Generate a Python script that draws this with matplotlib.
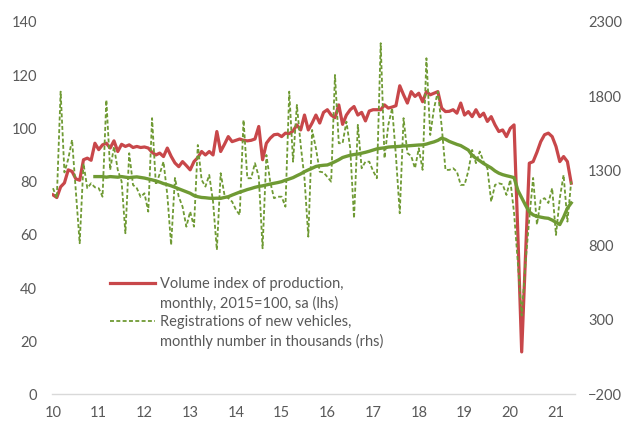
import numpy as np
import matplotlib
matplotlib.use("Agg")
import matplotlib.pyplot as plt
from matplotlib.lines import Line2D

# ---------------- data ----------------
year_labels = ["10", "11", "12", "13", "14", "15", "16", "17", "18", "19", "20", "21"]

# Volume index of production, monthly, 2015=100, sa (lhs)  Jan 2010 - May 2021
production = [
    75, 74, 78, 79.5, 84.4, 83.8, 81, 80.5, 88.2, 88.8, 88, 94.4,            # 2010
    92, 93.8, 94.4, 92.6, 95.3, 91.3, 94, 93.2, 93.8, 92.8, 93.2, 92.8,      # 2011
    93, 92.6, 91, 90, 90.7, 89.4, 92.6, 89.5, 87, 85.6, 87.5, 86,            # 2012
    84.4, 87.5, 89, 91.3, 90, 91.3, 90, 98.8, 91.3, 94, 96.9, 95,            # 2013
    95.5, 96, 95.5, 95.3, 95.5, 96, 100.7, 88.2, 94.4, 96.3, 97.6, 97.8,     # 2014
    96.9, 98.2, 98, 99, 101.3, 99.4, 105, 99.4, 102, 105, 102, 106,          # 2015
    107, 105, 104, 108.8, 101.5, 105, 107, 108.2, 105, 106, 102.8, 106.5,    # 2016
    107, 107, 107, 108.8, 107.6, 108, 108.5, 116, 112.6, 109.5, 113.8, 112,  # 2017
    113.2, 110, 113.8, 112.6, 113.2, 113.8, 107.6, 106.3, 106.4, 107, 105.7, 109.5,  # 2018
    105, 106.3, 104.4, 107, 104.4, 105.7, 102.6, 104.4, 101.3, 98.8, 99.4, 96.9,     # 2019
    100, 101.3, 60, 16, 52, 86.9, 87.5, 91, 95, 97.6, 98.2, 96.9,            # 2020
    93.2, 87.5, 89.4, 87.5, 79.4,                                            # 2021
]

# Registrations of new vehicles, monthly number in thousands (rhs)
registrations = [
    1184, 1117, 1832, 1290, 1380, 1508, 1160, 815, 1350, 1184, 1217, 1190,   # 2010
    1184, 1127, 1776, 1307, 1463, 1307, 1230, 882, 1419, 1206, 1184, 1125,   # 2011
    1150, 1027, 1654, 1206, 1280, 1362, 1139, 803, 1253, 1127, 1060, 926,    # 2012
    1027, 926, 1474, 1240, 1195, 1273, 1094, 770, 1285, 1139, 1117, 1094,    # 2013
    1040, 1005, 1642, 1251, 1251, 1352, 1262, 781, 1407, 1228, 1117, 1127,   # 2014
    1127, 1060, 1832, 1362, 1743, 1474, 1250, 859, 1575, 1452, 1295, 1290,   # 2015
    1260, 1228, 1944, 1486, 1486, 1631, 1452, 982, 1609, 1318, 1362, 1362,   # 2016
    1300, 1251, 2157, 1385, 1609, 1721, 1400, 1016, 1654, 1420, 1400, 1318,  # 2017
    1452, 1307, 2056, 1541, 1721, 1832, 1600, 1307, 1307, 1318, 1295, 1206,  # 2018
    1206, 1300, 1441, 1352, 1430, 1362, 1318, 1094, 1206, 1217, 1210, 1139,  # 2019
    1240, 1018, 680, 330, 680, 980, 1253, 940, 1105, 1117, 1085, 1184,       # 2020
    870, 1117, 1273, 960, 1230,                                              # 2021
]

# 12-month average of registrations (rhs), Dec 2010 - May 2021
registrations_avg = [
    1262,                                                                    # Dec 2010
    1262, 1262, 1258, 1262, 1260, 1258, 1262, 1258, 1255, 1258, 1260, 1256,  # 2011
    1252, 1246, 1240, 1233, 1225, 1215, 1208, 1200, 1190, 1180, 1170, 1160,  # 2012
    1150, 1135, 1127, 1122, 1120, 1117, 1116, 1117, 1116, 1122, 1127, 1138,  # 2013
    1148, 1158, 1166, 1175, 1182, 1190, 1196, 1200, 1206, 1212, 1217, 1222,  # 2014
    1228, 1238, 1246, 1255, 1268, 1280, 1295, 1307, 1318, 1330, 1335, 1338,  # 2015
    1340, 1350, 1362, 1375, 1390, 1398, 1405, 1410, 1413, 1419, 1425, 1432,  # 2016
    1440, 1448, 1452, 1455, 1460, 1462, 1463, 1465, 1468, 1468, 1470, 1472,  # 2017
    1474, 1475, 1480, 1488, 1495, 1505, 1520, 1512, 1498, 1488, 1478, 1470,  # 2018
    1455, 1440, 1405, 1385, 1368, 1350, 1335, 1320, 1300, 1285, 1275, 1268,  # 2019
    1262, 1255, 1170, 1120, 1070, 1025, 1005, 995, 990, 985, 982, 970,       # 2020
    955, 940, 990, 1050, 1085,                                               # 2021
]
avg_start = 11  # first month index of the average (Dec 2010)

legend_labels = [
    "Volume index of production,",
    "monthly, 2015=100, sa (lhs)",
    "Registrations of new vehicles,",
    "monthly number in thousands (rhs)",
]

# ---------------- style ----------------
RED = "#C8474A"
GREEN = "#6F9A34"
TXT = "#595959"
FONT = "Lato"
FS = 10.5

plt.rcParams["font.family"] = [FONT, "DejaVu Sans"]

fig = plt.figure(figsize=(6.23, 4.21), dpi=100)
ax = fig.add_axes([0.083, 0.063, 0.84, 0.885])
ax2 = ax.twinx()

x_prod = np.arange(len(production))
x_reg = np.arange(len(registrations))
x_avg = np.arange(len(registrations_avg)) + avg_start

ax.plot(x_prod, production, color=RED, lw=2.3, solid_joinstyle="round", zorder=3)
ax2.plot(x_reg, registrations, color=GREEN, lw=1.3, linestyle=(0, (2.2, 1.3)), zorder=3)
ax2.plot(x_avg, registrations_avg, color=GREEN, lw=2.4, solid_joinstyle="round", zorder=4)

ax.set_xlim(-0.34, 137.0)
ax.set_ylim(0, 140)
ax2.set_ylim(-200, 2300)

ax.set_yticks(np.arange(0, 141, 20))
ax2.set_yticks(np.arange(-200, 2301, 500))
ax.set_xticks(np.arange(len(year_labels)) * 12)
ax.set_xticklabels(year_labels)

for a in (ax, ax2):
    for s in a.spines.values():
        s.set_visible(False)
    a.tick_params(length=0, colors=TXT, labelsize=FS)
ax.spines["bottom"].set_visible(True)
ax.spines["bottom"].set_color("#D9D9D9")
ax.spines["bottom"].set_linewidth(1.0)
ax.tick_params(axis="y", pad=10.5)
ax.tick_params(axis="x", pad=8.5)
ax2.tick_params(axis="y", pad=9.5)

handles = [
    Line2D([], [], color=RED, lw=2.3),
    Line2D([], [], color="none"),
    Line2D([], [], color=GREEN, lw=1.3, linestyle=(0, (2.2, 1.3))),
    Line2D([], [], color="none"),
]
leg = ax2.legend(handles, legend_labels, loc="upper left",
                 bbox_to_anchor=(0.1114, 0.316), borderaxespad=0, borderpad=0,
                 handlelength=3.1, handletextpad=0.3, labelspacing=0.33,
                 frameon=False, prop={"family": [FONT, "DejaVu Sans"], "size": FS})
for t in leg.get_texts():
    t.set_color(TXT)

fig.savefig("out.png", dpi=100)
